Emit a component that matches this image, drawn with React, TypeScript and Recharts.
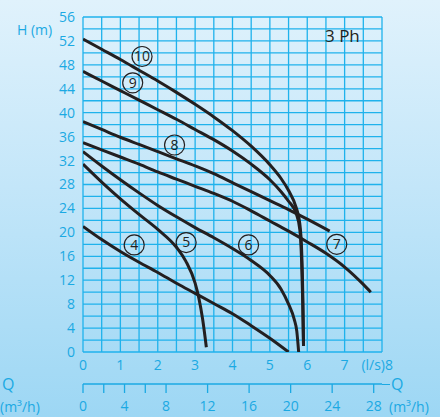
import { LineChart, Line, XAxis, YAxis, ReferenceLine, ReferenceDot } from "recharts";

// pump curves, Q in l/s, H in m
const curve4 = [[0, 21], [0.5, 18.8], [1, 16.8], [1.5, 15], [2, 13.3], [2.5, 11.5], [3, 9.8], [3.5, 8.1], [4, 6.4], [4.5, 4.4], [5, 2.3], [5.5, 0]];
const curve5 = [[0, 31.4], [0.5, 28.4], [1, 25.6], [1.5, 23], [2, 20.5], [2.5, 17.5], [2.75, 15.2], [3, 11.5], [3.1, 9], [3.2, 5.5], [3.3, 0.8]];
const curve6 = [[0, 33.5], [0.5, 31.1], [1, 28.8], [1.5, 26.6], [2, 24.5], [2.5, 22.6], [3, 20.8], [3.5, 19.1], [4, 17.3], [4.5, 15.3], [5, 12.8], [5.3, 10.5], [5.5, 8], [5.65, 5.5], [5.72, 3.5], [5.77, 0]];
const curve7 = [[0, 35], [0.5, 33.8], [1, 32.6], [1.5, 31.4], [2, 30.1], [2.5, 28.9], [3, 27.7], [3.5, 26.5], [4, 25.2], [4.5, 23.6], [5, 21.9], [5.5, 20.2], [6, 18.4], [6.5, 16.5], [7, 14.2], [7.5, 11.3], [7.7, 10]];
const curve8 = [[0, 38.5], [0.5, 37.2], [1, 35.9], [1.5, 34.7], [2, 33.5], [2.5, 32.3], [3, 31.1], [3.5, 29.8], [4, 28.3], [4.5, 26.8], [5, 25.3], [5.5, 23.8], [6, 22.2], [6.6, 20.2]];
const curve9 = [[0, 46.9], [0.5, 45.3], [1, 43.7], [1.5, 42.1], [2, 40.5], [2.5, 38.9], [3, 37.2], [3.5, 35.5], [4, 33.6], [4.5, 31.4], [5, 28.8], [5.3, 26.8], [5.5, 25.2], [5.7, 23.2], [5.8, 20.5], [5.85, 15], [5.88, 8], [5.9, 1]];
const curve10 = [[0, 52.3], [0.5, 50.6], [1, 48.9], [1.5, 47.1], [2, 45.3], [2.5, 43.4], [3, 41.4], [3.5, 39.3], [4, 37], [4.5, 34.4], [5, 31.3], [5.3, 29], [5.5, 27], [5.7, 24.2], [5.8, 21.5], [5.85, 17], [5.88, 10], [5.9, 1]];

const curveNames = ["4", "5", "6", "7", "8", "9", "10"];
const curves = [curve4, curve5, curve6, curve7, curve8, curve9, curve10];
// circled label positions [Q, H]
const labelPos = [[1.37, 17.9], [2.76, 18.3], [4.43, 17.9], [6.79, 18], [2.45, 34.6], [1.33, 45], [1.58, 49.4]];

const lsTicks = [0, 1, 2, 3, 4, 5, 6, 7, 8];
const hTicks = [0, 4, 8, 12, 16, 20, 24, 28, 32, 36, 40, 44, 48, 52, 56];
const m3Ticks = [0, 2, 4, 6, 8, 10, 12, 14, 16, 18, 20, 22, 24, 26, 28];
const gridQ = [0, 0.5, 1, 1.5, 2, 2.5, 3, 3.5, 4, 4.5, 5, 5.5, 6, 6.5, 7, 7.5, 8];
const gridH = [0, 2, 4, 6, 8, 10, 12, 14, 16, 18, 20, 22, 24, 26, 28, 30, 32, 34, 36, 38, 40, 42, 44, 46, 48, 50, 52, 54, 56];

const CYAN = "#1ba9e3";
const GRID = "#1fb2ec";
const INK = "#231f20";
const FONT = "'Open Sans', sans-serif";

const LsTick = (props: any) => {
  const { x, y, payload } = props;
  if (payload.value === 8) {
    return (
      <g fontFamily={FONT} fontSize={14} fill={CYAN}>
        <text x={x + 3} y={y} dy="0.71em" textAnchor="end">(l/s)</text>
        <text x={x + 7} y={y} dy="0.71em" textAnchor="middle">8</text>
      </g>
    );
  }
  return (
    <text x={x} y={y} dy="0.71em" textAnchor="middle" fontFamily={FONT} fontSize={14} fill={CYAN}>
      {payload.value}
    </text>
  );
};

const M3Tick = (props: any) => {
  const { x, y, payload } = props;
  if (payload.value % 4 !== 0) return <g />;
  return (
    <text x={x} y={y} dy="0.71em" textAnchor="middle" fontFamily={FONT} fontSize={14} fill={CYAN}>
      {payload.value}
    </text>
  );
};

const txt = (left: number, top: number, s: string, color = CYAN, size = 14) => (
  <div style={{ position: "absolute", left, top, fontFamily: FONT, fontSize: size, color, lineHeight: 1, whiteSpace: "nowrap" }}>
    {s}
  </div>
);

export default function App() {
  return (
    <div
      style={{
        position: "absolute",
        left: 0,
        top: 0,
        width: 440,
        height: 417,
        overflow: "hidden",
        background: "linear-gradient(180deg, #e0f2fc 0%, #c3e6f9 45%, #9dd7f4 100%)",
      }}
    >
      <LineChart width={440} height={417} margin={{ top: 17, right: 58, bottom: 0, left: 0 }}>
        <XAxis
          xAxisId="ls"
          type="number"
          dataKey="q"
          domain={[0, 8]}
          ticks={lsTicks}
          height={32}
          axisLine={false}
          tickLine={false}
          tick={<LsTick />}
          allowDataOverflow
        />
        <XAxis
          xAxisId="m3"
          type="number"
          dataKey="q"
          domain={[0, 28.8]}
          ticks={m3Ticks}
          height={33}
          axisLine={{ stroke: CYAN, strokeWidth: 1.3 }}
          tickLine={{ stroke: CYAN, strokeWidth: 1.3 }}
          tickSize={9}
          tickMargin={8}
          tick={<M3Tick />}
          allowDataOverflow
        />
        <YAxis
          type="number"
          domain={[0, 56]}
          ticks={hTicks}
          width={83}
          axisLine={false}
          tickLine={false}
          tick={{ fill: CYAN, fontSize: 14, fontFamily: FONT }}
          allowDataOverflow
        />
        {gridQ.map((v) => (
          <ReferenceLine key={"gx" + v} xAxisId="ls" x={v} stroke={GRID} strokeWidth={1.3} />
        ))}
        {gridH.map((v) => (
          <ReferenceLine key={"gy" + v} xAxisId="ls" y={v} stroke={GRID} strokeWidth={1.3} />
        ))}
        <Line
          xAxisId="m3"
          data={m3Ticks.map((q) => ({ q, h: 0 }))}
          dataKey="h"
          stroke="none"
          dot={false}
          activeDot={false}
          isAnimationActive={false}
        />
        {curves.map((c, i) => (
          <Line
            key={curveNames[i]}
            xAxisId="ls"
            data={c.map(([q, h]) => ({ q, h }))}
            dataKey="h"
            type="monotone"
            stroke={INK}
            strokeWidth={3}
            dot={false}
            activeDot={false}
            isAnimationActive={false}
          />
        ))}
        {labelPos.map(([q, h], i) => (
          <ReferenceDot
            key={"lab" + i}
            xAxisId="ls"
            x={q}
            y={h}
            r={10}
            fill="none"
            stroke={INK}
            strokeWidth={1.2}
            label={{ value: curveNames[i], position: "center", fill: INK, fontSize: 14, fontFamily: FONT }}
          />
        ))}
      </LineChart>
      {txt(17, 23, "H (m)")}
      {txt(325, 27, "3 Ph", INK, 17)}
      {txt(2, 376, "Q", CYAN, 16)}
      {txt(0, 400, "(m³/h)")}
      {txt(391, 376, "Q", CYAN, 16)}
      {txt(389, 400, "(m³/h)")}
      <div style={{ position: "absolute", left: 382, top: 383.5, width: 8, height: 1.3, background: CYAN }} />
    </div>
  );
}
